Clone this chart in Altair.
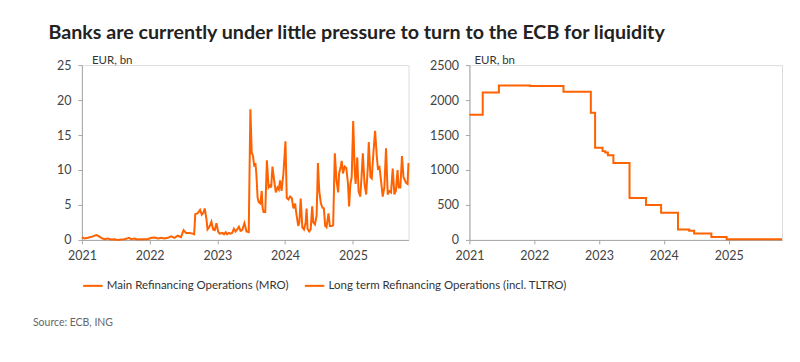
import altair as alt
import pandas as pd

title_text = "Banks are currently under little pressure to turn to the ECB for liquidity"
unit_label = "EUR, bn"
source_text = "Source: ECB, ING"
series_names = ["Main Refinancing Operations (MRO)",
                "Long term Refinancing Operations (incl. TLTRO)"]

mro_dates = [
    "2021-01-01", "2021-01-15", "2021-02-02", "2021-03-01", "2021-03-19", "2021-03-28",
    "2021-04-15", "2021-05-02", "2021-05-20", "2021-06-07", "2021-06-25", "2021-07-13",
    "2021-07-31", "2021-08-18", "2021-09-13", "2021-09-22", "2021-10-10", "2021-10-28",
    "2021-11-15", "2021-12-03", "2021-12-21", "2022-01-10", "2022-01-28", "2022-02-15",
    "2022-03-04", "2022-03-22", "2022-04-09", "2022-04-27", "2022-05-15", "2022-06-01",
    "2022-06-19", "2022-07-03", "2022-07-16", "2022-08-03", "2022-08-21", "2022-08-29",
    "2022-09-04", "2022-09-16", "2022-09-30", "2022-10-09", "2022-10-18", "2022-10-25",
    "2022-11-03", "2022-11-09", "2022-11-18", "2022-11-30", "2022-12-09", "2022-12-18",
    "2022-12-27", "2023-01-05", "2023-01-13", "2023-01-28", "2023-02-06", "2023-02-15",
    "2023-02-23", "2023-03-04", "2023-03-13", "2023-03-22", "2023-03-31", "2023-04-09",
    "2023-04-18", "2023-04-27", "2023-05-06", "2023-05-15", "2023-05-27", "2023-06-07",
    "2023-06-19", "2023-06-28", "2023-07-05", "2023-07-12", "2023-07-19", "2023-07-25",
    "2023-07-30", "2023-08-06", "2023-08-12", "2023-08-21", "2023-08-28", "2023-09-02",
    "2023-09-07", "2023-09-16", "2023-09-25", "2023-10-04", "2023-10-13", "2023-10-18",
    "2023-10-25", "2023-11-03", "2023-11-12", "2023-11-21", "2023-11-28", "2023-12-05",
    "2023-12-13", "2023-12-23", "2024-01-03", "2024-01-10", "2024-01-19", "2024-01-28",
    "2024-02-06", "2024-02-15", "2024-02-24", "2024-03-03", "2024-03-12", "2024-03-18",
    "2024-03-25", "2024-04-03", "2024-04-12", "2024-04-21", "2024-04-26", "2024-05-01",
    "2024-05-10", "2024-05-18", "2024-05-26", "2024-06-01", "2024-06-10", "2024-06-19",
    "2024-06-26", "2024-07-03", "2024-07-12", "2024-07-21", "2024-07-28", "2024-08-04",
    "2024-08-11", "2024-08-22", "2024-08-29", "2024-09-07", "2024-09-16", "2024-09-25",
    "2024-10-04", "2024-10-13", "2024-10-18", "2024-10-27", "2024-11-01", "2024-11-08",
    "2024-11-17", "2024-11-26", "2024-12-05", "2024-12-11", "2024-12-18", "2024-12-25",
    "2025-01-02", "2025-01-10", "2025-01-15", "2025-01-24", "2025-01-31", "2025-02-09",
    "2025-02-16", "2025-02-23", "2025-03-04", "2025-03-13", "2025-03-22", "2025-03-27",
    "2025-04-05", "2025-04-12", "2025-04-21", "2025-04-30", "2025-05-09", "2025-05-16",
    "2025-05-23", "2025-06-01", "2025-06-10", "2025-06-19", "2025-06-28", "2025-07-07",
    "2025-07-16", "2025-07-25", "2025-08-03", "2025-08-12", "2025-08-20", "2025-08-29",
    "2025-09-04", "2025-09-13", "2025-09-22", "2025-09-30", "2025-10-13", "2025-10-22",
    "2025-10-27",
]
mro_values = [
    0.4, 0.2, 0.3, 0.5, 0.7, 0.6,
    0.3, 0.1, 0.2, 0.05, 0.1, 0.0,
    0.05, 0.1, 0.3, 0.1, 0.2, 0.05,
    0.1, 0.1, 0.1, 0.3, 0.35, 0.2,
    0.3, 0.2, 0.3, 0.5, 0.3, 0.6,
    0.4, 1.4, 1.0, 1.0, 0.9, 0.8,
    3.7, 3.8, 4.3, 3.6, 3.9, 4.5,
    3.0, 1.5, 1.8, 2.6, 1.5, 1.4,
    2.4, 1.2, 0.9, 1.0, 0.8, 1.1,
    0.8, 1.0, 0.9, 1.0, 1.6, 1.2,
    1.5, 1.9, 1.3, 1.4, 2.4, 1.2,
    1.1, 18.7, 12.5, 12.0, 10.5, 11.0,
    9.5, 6.0, 5.4, 5.2, 7.0, 4.5,
    4.0, 4.0, 11.4, 7.5, 7.8, 7.5,
    10.5, 8.5, 6.8, 7.5, 7.2, 8.5,
    7.0, 9.5, 14.1, 6.0, 5.8, 6.2,
    6.0, 4.5, 5.2, 3.5, 2.0, 2.5,
    5.9, 1.8, 1.5, 2.5, 4.5, 1.6,
    1.2, 1.5, 4.8, 2.5, 2.2, 3.5,
    11.0, 7.0, 5.2, 4.6, 4.5, 2.0,
    1.8, 3.8, 2.0, 2.0, 2.1, 12.4,
    8.5, 6.8, 9.5, 10.5, 11.3, 9.5,
    10.5, 10.3, 8.0, 4.8, 8.0, 9.0,
    17.0, 10.0, 8.0, 11.8, 7.0, 6.2,
    9.0, 12.4, 8.0, 6.5, 10.5, 14.0,
    9.0, 8.8, 12.5, 15.6, 12.0, 10.0,
    10.6, 8.5, 6.2, 7.5, 13.1, 6.5,
    7.0, 6.8, 10.2, 6.5, 7.0, 10.0,
    7.5, 7.5, 12.0, 9.0, 8.2, 8.0,
    11.0,
]

ltro_dates = [
    "2021-01-01", "2021-03-17", "2021-06-16", "2021-12-09", "2022-06-15",
    "2022-11-16", "2022-12-10", "2023-01-21", "2023-02-05", "2023-02-20",
    "2023-03-23", "2023-06-22", "2023-09-23", "2023-12-17", "2024-03-21",
    "2024-05-23", "2024-06-20", "2024-09-25", "2024-12-20", "2025-10-28",
]
ltro_values = [
    1790, 2110, 2210, 2200, 2120,
    1820, 1320, 1270, 1250, 1210,
    1100, 600, 500, 390, 150,
    130, 90, 40, 10, 10,
]

mro_ticks = [0, 5, 10, 15, 20, 25]
ltro_ticks = [0, 500, 1000, 1500, 2000, 2500]

ORANGE = "#FF6200"
FONT = "Lato"
AXIS_GREY = "#a6a6a6"
LABEL_GREY = "#444444"


def panel(dates, values, name, ticks, width, unit_x, legend_x, end, interp, with_source):
    df = pd.DataFrame({"date": dates, "value": values, "series": name})
    line = alt.Chart(df).mark_line(strokeWidth=2, interpolate=interp).encode(
        x=alt.X("date:T", title=None,
                scale=alt.Scale(domain=[alt.DateTime(year=2021, month=1, date=1), end]),
                axis=alt.Axis(format="%Y", tickCount="year", grid=False, labelFlush=False,
                              labelFont=FONT, labelFontSize=12.5, labelColor=LABEL_GREY,
                              domainColor=AXIS_GREY, tickColor=AXIS_GREY, tickSize=4,
                              labelPadding=6)),
        y=alt.Y("value:Q", title=None,
                scale=alt.Scale(domain=[ticks[0], ticks[-1]], nice=False),
                axis=alt.Axis(values=ticks, format="d", grid=False, labelFlush=False,
                              labelFont=FONT, labelFontSize=12.5, labelColor=LABEL_GREY,
                              domainColor=AXIS_GREY, tickColor=AXIS_GREY, tickSize=4,
                              labelPadding=7)),
        color=alt.Color("series:N", title=None,
                        scale=alt.Scale(domain=[name], range=[ORANGE]),
                        legend=alt.Legend(orient="none", legendX=legend_x, legendY=210,
                                          symbolType="stroke", symbolSize=380,
                                          symbolStrokeWidth=2, labelFont=FONT,
                                          labelFontSize=11.5, labelColor="#333333",
                                          labelLimit=400, labelOffset=3, padding=0)),
    )
    unit = alt.Chart(pd.DataFrame({"t": [unit_label]})).mark_text(
        align="left", baseline="middle", font=FONT, fontSize=11.5, color="#333333"
    ).encode(x=alt.value(unit_x), y=alt.value(-4), text="t:N")
    layers = [line, unit]
    if with_source:
        src = alt.Chart(pd.DataFrame({"t": [source_text]})).mark_text(
            align="left", baseline="middle", font=FONT, fontSize=10.5, color="#666666"
        ).encode(x=alt.value(-49), y=alt.value(258), text="t:N")
        layers.append(src)
    return alt.layer(*layers).properties(width=width, height=175)


left = panel(mro_dates, mro_values, series_names[0], mro_ticks, 327, 10, 0,
             alt.DateTime(year=2025, month=10, date=27), "linear", True)
right = panel(ltro_dates, ltro_values, series_names[1], ltro_ticks, 313, 5, -166,
              alt.DateTime(year=2025, month=10, date=28), "step-after", False)

chart = alt.hconcat(left, right, spacing=61, bounds="flush").resolve_scale(
    color="independent"
).properties(
    title=alt.TitleParams(title_text, anchor="start", font=FONT, fontSize=19.7,
                          fontWeight="bold", color="#222222", dx=16, offset=12),
    padding={"left": 24, "top": 14, "right": 5, "bottom": 5},
).configure_view(stroke=None).configure(background="white")

chart.save("out.html", embed_options={"renderer": "svg", "actions": False})
